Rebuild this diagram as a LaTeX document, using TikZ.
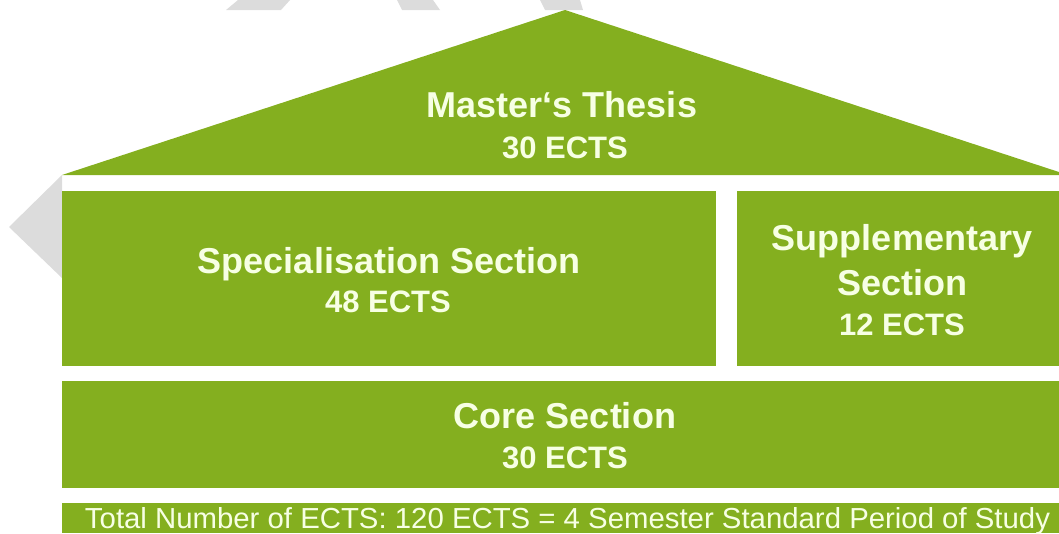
\documentclass[tikz,border=0pt]{standalone}
\usepackage{fontspec}
\setmainfont{Liberation Sans}
\usepackage{graphicx}
\definecolor{leaf}{HTML}{84AF1F}
\definecolor{cream}{HTML}{F7FFE4}
\definecolor{wmgrey}{HTML}{DCDCDC}
\tikzset{
  block/.style={fill=leaf, draw=none, inner sep=0pt, outer sep=0pt},
  title/.style={text=cream, font=\bfseries\fontsize{36}{40}\selectfont, inner sep=0pt, anchor=base},
  credits/.style={text=cream, font=\bfseries\fontsize{31}{35}\selectfont, inner sep=0pt, anchor=base},
  footer/.style={text=cream, inner sep=0pt, anchor=base},
  mark grey/.style={fill=wmgrey, draw=none}
}
\begin{document}
\begin{tikzpicture}[x=1pt,y=-1pt]
\useasboundingbox (0,0) rectangle (1059,533);
\clip (0,0) rectangle (1059,533);
% light grey background fragments
\fill[mark grey] (238,0) -- (290,0) -- (281,10) -- (226,10) -- cycle;
\fill[mark grey] (397,0) -- (433,0) -- (440,10) -- (402,10) -- cycle;
\fill[mark grey] (540,0) -- (580,0) -- (583,10) -- (545,10) -- cycle;
\fill[mark grey] (62,175) -- (9,227) -- (62,278) -- cycle;
% roof
\coordinate (apex) at (565,10);
\coordinate (eaveL) at (62,175);
\coordinate (eaveR) at (1068,175);
\fill[leaf] (eaveL) -- (apex) -- (eaveR) -- cycle;
% blocks
\node[block, minimum width=654pt, minimum height=175pt] (spec) at (389,278.5) {};
\node[block, minimum width=322pt, minimum height=175pt] (supp) at (898,278.5) {};
\node[block, minimum width=997pt, minimum height=107pt] (core) at (560.5,434.5) {};
\node[block, minimum width=997pt, minimum height=30pt] (bar) at (560.5,518) {};
% texts
\node[title] (mt1) at (562,117) {Master‘s Thesis};
\node[credits] (mt2) at (565,158) {30 ECTS};
\node[title] (sp1) at (389,273) {Specialisation Section};
\node[credits] (sp2) at (388,312) {48 ECTS};
\node[title] (su1) at (902,250) {Supplementary};
\node[title] (su2) at (902,295) {Section};
\node[credits] (su3) at (902,335) {12 ECTS};
\node[title] (co1) at (565,428) {Core Section};
\node[credits] (co2) at (565,468) {30 ECTS};
\node[footer] (tot) at (567.5,528.5) {\resizebox{965pt}{21pt}{\fontsize{30}{30}\selectfont Total Number of ECTS: 120 ECTS = 4 Semester Standard Period of Study}};
\end{tikzpicture}
\end{document}
